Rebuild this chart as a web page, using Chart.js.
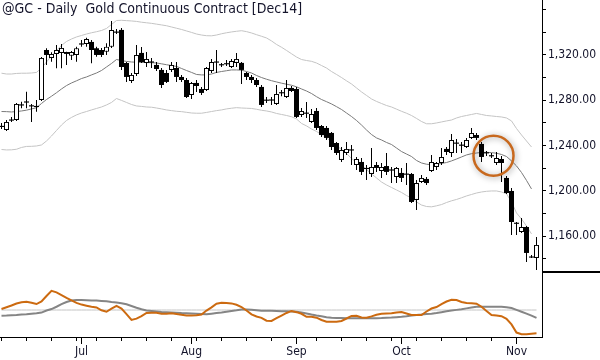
<!DOCTYPE html>
<html>
<head>
<meta charset="utf-8">
<script src="https://cdn.jsdelivr.net/npm/chart.js@4.4.0/dist/chart.umd.min.js"></script>
<style>
body { margin: 0; background: #fff; }
#wrap { position: relative; width: 600px; height: 360px; overflow: hidden; }
#priceChart { position: absolute; left: 0; top: 0; }
#oscChart { position: absolute; left: 0; top: 272px; }
#title { position: absolute; left: 2px; top: 0px; font: 14px 'DejaVu Sans Condensed', 'DejaVu Sans', sans-serif; color: #14142b; white-space: pre; }
</style>
</head>
<body>
<div id="wrap">
  <canvas id="priceChart" width="600" height="272"></canvas>
  <canvas id="oscChart" width="600" height="88"></canvas>
  <div id="title">@GC - Daily  Gold Continuous Contract [Dec14]</div>
</div>
<script>
// daily bars, 9 Jun - 7 Nov 2014, one entry per trading day
const open = [1257.4, 1253.8, 1262.3, 1262.6, 1275.6, 1278.2, 1275.4, 1274.3, 1280.3, 1324.4,
  1317.4, 1320.9, 1321.8, 1322.6, 1319.4, 1320.0, 1329.5, 1329.7, 1331.5, 1325.9,
  1324.4, 1322.9, 1327.3, 1340.0, 1342.1, 1312.9, 1297.1, 1303.2, 1321.8, 1312.9,
  1314.0, 1311.2, 1306.8, 1304.1, 1306.8, 1308.5, 1300.6, 1297.9, 1284.7, 1295.3,
  1290.0, 1289.1, 1305.9, 1313.5, 1311.5, 1312.0, 1309.4, 1313.0, 1313.0, 1304.1,
  1300.6, 1297.9, 1291.8, 1280.3, 1280.0, 1276.8, 1286.4, 1282.9, 1290.9, 1290.0,
  1267.1, 1268.5, 1260.9, 1270.6, 1257.3, 1255.6, 1251.2, 1242.3, 1227.4, 1233.5,
  1236.4, 1222.9, 1225.6, 1220.3, 1215.0, 1222.9, 1217.6, 1222.0, 1218.7, 1212.3,
  1215.9, 1215.0, 1215.0, 1192.1, 1207.9, 1210.6, 1217.6, 1221.2, 1224.7, 1237.1,
  1233.5, 1242.1, 1240.6, 1238.8, 1246.8, 1249.4, 1241.5, 1233.8, 1231.2, 1224.7,
  1228.2, 1211.5, 1200.0, 1171.7, 1163.8, 1168.2, 1141.9, 1140.9];
const high = [1260.0, 1262.6, 1265.3, 1277.6, 1278.8, 1287.6, 1276.8, 1280.3, 1318.2, 1325.9,
  1322.4, 1328.8, 1329.7, 1322.9, 1323.5, 1327.3, 1333.2, 1335.3, 1333.2, 1327.3,
  1326.2, 1330.3, 1350.0, 1342.9, 1343.8, 1313.8, 1304.1, 1328.8, 1327.1, 1322.6,
  1317.4, 1313.8, 1308.5, 1306.8, 1313.8, 1313.8, 1302.4, 1299.7, 1296.2, 1297.9,
  1291.8, 1309.4, 1316.5, 1324.4, 1313.0, 1315.6, 1316.5, 1321.8, 1313.8, 1305.0,
  1302.4, 1299.7, 1293.5, 1283.0, 1283.0, 1293.5, 1289.0, 1297.9, 1292.6, 1291.8,
  1273.2, 1278.5, 1272.4, 1273.2, 1258.2, 1257.3, 1252.1, 1243.2, 1238.8, 1243.2,
  1240.6, 1230.0, 1229.1, 1222.9, 1237.9, 1225.6, 1224.7, 1233.5, 1221.2, 1221.2,
  1220.3, 1224.7, 1215.9, 1209.7, 1214.1, 1212.3, 1231.8, 1225.6, 1237.9, 1238.8,
  1250.3, 1245.9, 1243.2, 1246.8, 1255.6, 1251.2, 1243.2, 1235.3, 1233.5, 1234.4,
  1230.9, 1213.2, 1202.6, 1172.6, 1176.2, 1169.1, 1143.5, 1159.4];
const low = [1254.7, 1252.9, 1260.9, 1261.8, 1273.0, 1273.0, 1260.9, 1270.0, 1279.4, 1311.2,
  1314.1, 1308.3, 1308.3, 1311.2, 1315.6, 1314.1, 1327.3, 1327.3, 1312.7, 1318.5,
  1318.2, 1320.0, 1326.2, 1338.5, 1306.8, 1296.2, 1295.3, 1301.5, 1312.9, 1309.4,
  1308.5, 1305.9, 1290.9, 1295.3, 1305.0, 1296.2, 1296.2, 1282.0, 1281.2, 1287.4,
  1284.7, 1288.2, 1304.1, 1304.1, 1309.4, 1310.3, 1308.5, 1309.4, 1294.4, 1297.9,
  1295.3, 1291.8, 1274.1, 1277.6, 1275.9, 1275.9, 1283.5, 1282.0, 1287.4, 1264.4,
  1265.3, 1264.4, 1260.0, 1253.8, 1247.6, 1245.0, 1236.2, 1231.8, 1225.6, 1231.8,
  1222.9, 1218.5, 1214.1, 1209.7, 1212.3, 1216.8, 1211.5, 1214.1, 1207.0, 1207.0,
  1207.9, 1205.3, 1189.4, 1183.2, 1207.0, 1205.3, 1216.8, 1218.5, 1222.9, 1231.8,
  1230.0, 1233.5, 1233.5, 1237.9, 1245.9, 1245.0, 1225.6, 1230.9, 1229.1, 1222.9,
  1207.9, 1197.3, 1161.2, 1161.2, 1162.9, 1137.3, 1140.9, 1130.3];
const close = [1256.5, 1260.9, 1262.8, 1276.8, 1276.2, 1278.8, 1274.8, 1274.8, 1317.4, 1320.0,
  1320.9, 1324.4, 1326.2, 1320.9, 1322.6, 1325.9, 1329.9, 1334.1, 1324.4, 1320.0,
  1320.0, 1327.3, 1342.1, 1340.3, 1309.4, 1300.6, 1302.4, 1320.0, 1313.8, 1316.5,
  1313.6, 1307.6, 1293.5, 1296.2, 1311.2, 1300.6, 1297.9, 1282.9, 1295.3, 1292.6,
  1286.5, 1308.5, 1313.8, 1314.0, 1311.2, 1312.5, 1314.7, 1316.5, 1306.8, 1300.6,
  1297.9, 1293.5, 1275.9, 1279.9, 1280.5, 1285.6, 1286.9, 1290.9, 1288.2, 1265.3,
  1270.6, 1268.8, 1267.9, 1255.6, 1249.4, 1246.8, 1238.8, 1233.5, 1236.2, 1237.1,
  1236.0, 1228.2, 1216.8, 1219.4, 1221.2, 1220.3, 1221.2, 1216.8, 1218.3, 1220.3,
  1211.5, 1214.7, 1190.3, 1207.0, 1211.5, 1207.0, 1225.6, 1224.7, 1230.0, 1234.4,
  1245.0, 1242.3, 1240.2, 1245.0, 1251.2, 1246.8, 1230.0, 1233.5, 1230.9, 1229.1,
  1224.7, 1198.2, 1172.6, 1171.3, 1168.2, 1145.3, 1141.5, 1152.4];

// moving average and its bands (stop one bar before the last)
const ma = [1270.1, 1270.0, 1269.7, 1270.1, 1270.6, 1271.3, 1272.4, 1273.4, 1277.2, 1280.7,
  1283.6, 1286.7, 1290.0, 1293.0, 1295.3, 1297.2, 1299.2, 1300.6, 1302.4, 1304.1,
  1306.3, 1309.4, 1312.5, 1316.0, 1315.1, 1314.3, 1313.8, 1313.6, 1313.4, 1313.3,
  1313.2, 1312.9, 1312.2, 1311.4, 1310.7, 1309.9, 1308.1, 1306.3, 1304.6, 1302.8,
  1302.4, 1302.4, 1303.2, 1304.6, 1305.4, 1306.1, 1306.8, 1306.8, 1306.6, 1305.4,
  1304.1, 1301.9, 1300.1, 1298.6, 1297.3, 1296.2, 1295.1, 1294.2, 1293.3, 1291.9,
  1290.0, 1288.2, 1286.0, 1283.2, 1280.7, 1278.8, 1276.8, 1274.4, 1271.9, 1268.8,
  1265.7, 1262.2, 1258.2, 1253.8, 1249.8, 1246.8, 1245.0, 1242.8, 1241.0, 1237.9,
  1234.8, 1232.6, 1230.4, 1226.9, 1224.7, 1223.6, 1223.2, 1223.4, 1224.3, 1225.1,
  1226.5, 1228.2, 1230.0, 1231.8, 1232.9, 1233.5, 1234.0, 1234.1, 1233.8, 1233.3,
  1232.2, 1230.4, 1226.5, 1222.1, 1216.3, 1209.3, 1201.8];
const upperBand = [1303.9, 1303.2, 1303.2, 1303.7, 1303.9, 1303.9, 1304.1, 1304.6, 1308.5, 1313.8,
  1319.1, 1324.0, 1328.4, 1331.9, 1334.1, 1335.9, 1337.2, 1338.5, 1339.6, 1340.5,
  1341.6, 1343.4, 1346.9, 1350.4, 1350.6, 1350.3, 1350.0, 1349.6, 1348.9, 1348.4,
  1347.9, 1347.2, 1346.5, 1345.8, 1344.7, 1343.6, 1342.5, 1341.2, 1339.9, 1338.5,
  1337.6, 1337.0, 1336.9, 1337.6, 1338.7, 1339.6, 1340.3, 1340.9, 1341.4, 1340.6,
  1339.4, 1337.9, 1336.5, 1335.0, 1332.4, 1329.3, 1326.8, 1324.0, 1321.1, 1318.2,
  1316.0, 1315.1, 1314.4, 1312.9, 1310.7, 1308.5, 1305.4, 1302.8, 1300.1, 1297.2,
  1294.4, 1290.9, 1287.4, 1284.3, 1281.2, 1279.0, 1277.2, 1275.4, 1274.1, 1272.2,
  1270.3, 1268.6, 1266.6, 1264.0, 1261.3, 1259.3, 1259.3, 1260.0, 1260.9, 1261.8,
  1262.6, 1264.4, 1265.7, 1266.6, 1267.5, 1268.4, 1267.5, 1266.6, 1266.2, 1265.7,
  1265.3, 1264.4, 1261.8, 1255.1, 1249.4, 1244.1, 1238.8];
const lowerBand = [1236.6, 1236.2, 1236.3, 1236.8, 1238.4, 1239.3, 1239.4, 1239.7, 1240.6, 1244.1,
  1248.5, 1253.4, 1258.2, 1262.2, 1264.9, 1267.1, 1268.8, 1270.1, 1271.5, 1272.8,
  1274.1, 1275.9, 1278.1, 1281.6, 1279.9, 1278.1, 1276.3, 1275.0, 1274.6, 1274.1,
  1273.9, 1273.2, 1272.4, 1271.5, 1270.9, 1270.3, 1270.0, 1269.4, 1268.8, 1268.6,
  1268.6, 1269.3, 1270.1, 1270.9, 1271.5, 1272.4, 1273.0, 1273.5, 1273.2, 1273.0,
  1272.8, 1272.1, 1271.2, 1270.6, 1269.7, 1268.4, 1267.5, 1266.6, 1265.5, 1263.5,
  1259.6, 1257.4, 1254.7, 1252.5, 1249.8, 1246.9, 1243.7, 1240.0, 1236.6, 1233.1,
  1228.7, 1225.1, 1222.5, 1219.0, 1215.0, 1211.5, 1207.9, 1205.3, 1203.1, 1200.9,
  1198.7, 1196.0, 1193.8, 1190.3, 1187.6, 1186.3, 1186.0, 1186.9, 1188.0, 1189.8,
  1191.3, 1192.5, 1194.0, 1195.6, 1196.9, 1198.2, 1199.1, 1199.7, 1200.0, 1200.0,
  1199.1, 1197.5, 1190.3, 1180.6, 1175.3, 1169.1, 1162.1];

// lower panel indicator
const oscLine = [20.7, 22.0, 23.3, 24.8, 25.8, 26.1, 25.3, 24.4, 26.3, 30.4,
  34.2, 33.1, 31.1, 29.0, 27.2, 25.3, 24.0, 23.2, 22.4, 21.9,
  19.8, 18.7, 21.0, 23.1, 21.1, 17.0, 12.6, 13.6, 15.4, 17.8,
  18.0, 18.0, 17.3, 17.2, 17.5, 17.0, 16.4, 15.9, 15.9, 16.1,
  16.7, 19.6, 22.0, 24.6, 25.3, 25.1, 24.9, 23.9, 22.2, 19.6,
  16.8, 15.2, 14.2, 12.1, 11.9, 13.9, 15.9, 17.8, 19.3, 18.4,
  17.2, 15.0, 15.0, 14.3, 12.6, 11.3, 11.3, 11.3, 11.9, 13.7,
  15.6, 15.7, 14.4, 14.3, 15.3, 16.5, 17.2, 17.4, 17.6, 18.1,
  18.5, 17.4, 16.3, 16.3, 16.3, 18.9, 21.1, 22.2, 24.4, 26.3,
  27.6, 27.4, 25.9, 25.2, 25.0, 24.7, 22.4, 19.3, 16.3, 15.9,
  15.4, 13.5, 9.3, 3.3, 2.1, 2.0, 2.4, 2.7];
const oscSignal = [15.8, 15.9, 16.1, 16.3, 16.7, 16.9, 17.3, 17.6, 18.1, 19.6,
  20.7, 22.4, 24.3, 25.9, 27.0, 27.4, 27.4, 27.3, 27.0, 27.0,
  26.7, 26.4, 25.9, 25.5, 25.0, 24.2, 23.0, 21.7, 20.5, 19.7,
  19.3, 18.9, 18.5, 18.3, 18.1, 17.9, 17.7, 17.6, 17.4, 17.2,
  17.0, 16.8, 17.3, 17.8, 18.1, 18.7, 19.3, 19.8, 20.4, 20.4,
  20.1, 19.8, 19.5, 19.5, 19.4, 19.3, 19.1, 19.0, 18.9, 18.7,
  18.1, 17.4, 16.6, 15.9, 15.3, 14.7, 14.2, 14.1, 14.0, 13.9,
  13.9, 13.9, 13.9, 13.9, 13.9, 13.9, 14.0, 14.2, 14.4, 14.7,
  15.0, 15.4, 15.9, 16.3, 16.6, 17.0, 17.3, 17.8, 18.4, 19.0,
  19.6, 20.1, 20.6, 21.2, 21.8, 22.4, 22.4, 22.4, 22.4, 22.4,
  22.4, 22.1, 21.5, 20.1, 18.7, 17.3, 15.8, 14.1];
const oscLevel = 20;

// price axis ticks: every 20, labelled every 40
const priceTicks = [1140, 1160, 1180, 1200, 1220, 1240, 1260, 1280, 1300, 1320, 1340, 1360];
const priceLabelled = [1160, 1200, 1240, 1280, 1320];

// x axis: bar index of month starts and of each week's first session
const monthLabels = ['Jul', 'Aug', 'Sep', 'Oct', 'Nov'];
const monthStart = [16, 38, 59, 80, 103];
const weekStart = [0, 5, 10, 15, 19, 24, 29, 34, 39, 44, 49, 54, 59, 63, 68, 73, 78, 83, 88, 93, 98, 103];

// highlighted spot (bar index, price)
const markBar = 98.4;
const markPrice = 1231;

const FONT = "'DejaVu Sans Condensed', 'DejaVu Sans', sans-serif";
const TEXT = '#14142b';
Chart.defaults.font.family = FONT;
Chart.defaults.color = TEXT;
Chart.defaults.animation = false;

const pts = arr => arr.map((v, i) => ({x: i, y: v}));
const idx = open.map((v, i) => i);
const isUp = i => close[i] - open[i] >= 1;
const body = i => {
  let lo = Math.min(open[i], close[i]), hi = Math.max(open[i], close[i]);
  if (hi - lo < 1) { const m = (lo + hi) / 2; lo = m - 0.5; hi = m + 0.5; }
  return {x: i, y: [lo, hi]};
};
const xRange = {type: 'linear', min: -0.3, max: 108.1, offset: false};

const sideLines = {
  id: 'sideLines',
  beforeDatasetDraw(chart, args) {
    if (args.meta.label === 'mark') {
      chart.ctx.save();
      chart.ctx.shadowColor = 'rgba(0,0,0,0.4)';
      chart.ctx.shadowBlur = 6;
      chart.ctx.shadowOffsetX = 1;
      chart.ctx.shadowOffsetY = 1;
    }
  },
  afterDatasetDraw(chart, args) {
    if (args.meta.label === 'mark') chart.ctx.restore();
  },
  afterDraw(chart) {
    const ctx = chart.ctx, a = chart.chartArea;
    ctx.save();
    ctx.strokeStyle = '#000';
    ctx.lineWidth = 1;
    ctx.beginPath();
    if (chart.canvas.id === 'priceChart') {
      ctx.moveTo(a.right, chart.height - 0.5);
      ctx.lineTo(chart.width, chart.height - 0.5);
    } else {
      ctx.moveTo(a.right, 0.5);
      ctx.lineTo(chart.width, 0.5);
      // month ticks are longer than week ticks
      const xs = chart.scales.x;
      monthStart.forEach(m => {
        const px = Math.floor(xs.getPixelForValue(m)) + 0.5;
        ctx.moveTo(px, a.bottom + 4);
        ctx.lineTo(px, a.bottom + 7);
      });
    }
    ctx.stroke();
    ctx.restore();
  }
};

new Chart('priceChart', {
  type: 'bar',
  data: {
    datasets: [
      {label: 'mark', type: 'line', showLine: false, data: [{x: markBar, y: markPrice}],
        pointRadius: 20, pointHoverRadius: 20, pointBorderWidth: 2.5, pointHoverBorderWidth: 2.5,
        pointBorderColor: '#c8691e', pointBackgroundColor: 'rgba(0,0,0,0)', order: 0},
      {label: 'up', data: idx.filter(isUp).map(body), backgroundColor: '#fff', borderColor: '#000',
        borderWidth: 1, borderSkipped: false, barThickness: 5, grouped: false, inflateAmount: 0, order: 1},
      {label: 'down', data: idx.filter(i => !isUp(i)).map(body), backgroundColor: '#000',
        borderWidth: 0, barThickness: 5, grouped: false, inflateAmount: 0, order: 1},
      {label: 'range', data: idx.map(i => ({x: i, y: [low[i], high[i]]})), backgroundColor: '#000',
        borderWidth: 0, barThickness: 1, grouped: false, inflateAmount: 0, order: 2},
      {label: 'MA', type: 'line', data: pts(ma), borderColor: '#7a7a7a', borderWidth: 1, pointRadius: 0, tension: 0, order: 3},
      {label: 'Upper', type: 'line', data: pts(upperBand), borderColor: '#c4c4c4', borderWidth: 1, pointRadius: 0, tension: 0, order: 4},
      {label: 'Lower', type: 'line', data: pts(lowerBand), borderColor: '#c4c4c4', borderWidth: 1, pointRadius: 0, tension: 0, order: 4}
    ]
  },
  options: {
    responsive: false,
    devicePixelRatio: 1,
    layout: {padding: 0, autoPadding: false},
    plugins: {legend: {display: false}, tooltip: {enabled: false}},
    scales: {
      x: Object.assign({display: false}, xRange),
      y: {
        position: 'right', min: 1128.5, max: 1368.5,
        grid: {drawOnChartArea: false, tickLength: 4, color: '#000'},
        border: {color: '#000'},
        ticks: {
          autoSkip: false, padding: 2, font: {size: 12},
          callback: v => priceLabelled.includes(v)
            ? v.toLocaleString('en-US', {minimumFractionDigits: 2, maximumFractionDigits: 2}) : ''
        },
        afterBuildTicks: s => { s.ticks = priceTicks.map(v => ({value: v})); },
        afterFit: s => { s.width = 58; s.paddingTop = 0; s.paddingBottom = 0; }
      }
    }
  },
  plugins: [sideLines]
});

new Chart('oscChart', {
  type: 'line',
  data: {
    datasets: [
      {label: 'osc', data: pts(oscLine), borderColor: '#cc6a10', borderWidth: 2, pointRadius: 0, tension: 0, order: 0},
      {label: 'signal', data: pts(oscSignal), borderColor: '#858585', borderWidth: 2, pointRadius: 0, tension: 0, order: 1},
      {label: 'level', data: idx.map(i => ({x: i, y: oscLevel})), borderColor: '#c4c4c4', borderWidth: 1, pointRadius: 0, order: 2}
    ]
  },
  options: {
    responsive: false,
    devicePixelRatio: 1,
    layout: {padding: 0, autoPadding: false},
    plugins: {legend: {display: false}, tooltip: {enabled: false}},
    scales: {
      x: Object.assign({
        grid: {drawOnChartArea: false, tickLength: 4, color: '#000'},
        border: {color: '#000'},
        ticks: {
          autoSkip: false, maxRotation: 0, padding: 4, font: {size: 12},
          callback: v => { const k = monthStart.indexOf(v); return k >= 0 ? monthLabels[k] : ''; }
        },
        afterBuildTicks: s => {
          s.ticks = [...new Set(weekStart.concat(monthStart))].sort((a, b) => a - b).map(v => ({value: v}));
        },
        afterFit: s => { s.height = 23; s.paddingLeft = 0; s.paddingRight = 0; }
      }, xRange),
      y: {
        position: 'right', min: 0, max: 48.15,
        grid: {display: false},
        border: {color: '#000'},
        ticks: {display: false},
        afterFit: s => { s.width = 58; }
      }
    }
  },
  plugins: [sideLines]
});
</script>
</body>
</html>
